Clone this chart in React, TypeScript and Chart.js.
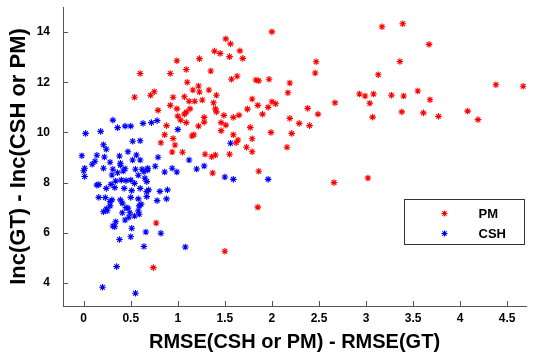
import React, { useEffect, useRef } from 'react';
import { Chart, registerables } from 'chart.js';
Chart.register(...registerables);

// ---- data ----
const seriesNames = ['PM', 'CSH'];

const pmX = [
  1.51, 1.56, 1.39, 1.45, 1.55, 1.66, 0.99, 1.23, 0.60, 0.92, 1.09, 1.35, 1.57, 1.63, 1.10, 1.22,
  1.16, 1.23, 1.33, 0.75, 0.71, 0.54, 0.95, 1.07, 1.41, 1.12, 1.18, 1.26, 1.38, 0.92, 0.99, 1.13,
  1.40, 0.79, 2.00, 3.17, 3.39, 1.69, 2.47, 3.36, 2.46, 3.13, 1.83, 1.86, 1.97, 2.19, 2.17, 1.79,
  1.85, 2.00, 2.04, 1.96, 1.74, 2.38, 2.67, 2.93, 2.99, 3.08, 3.04, 3.27, 3.40, 3.67, 4.38, 4.67,
  3.55, 3.68, 3.38, 3.61, 3.77, 4.08, 4.19, 1.09, 1.07, 1.49, 1.65, 1.00, 1.03, 1.09, 1.28, 1.46,
  1.51, 1.22, 0.88, 1.46, 0.86, 1.17, 1.15, 1.59, 0.95, 0.82, 0.97, 0.94, 1.05, 1.29, 1.36, 1.40,
  1.55, 1.37, 1.59, 1.90, 2.49, 3.07, 2.19, 1.77, 2.29, 2.40, 1.99, 2.21, 1.79, 1.64, 1.62, 1.73,
  1.79, 2.16, 1.86, 2.66, 3.02, 1.85, 0.77, 1.50, 0.74, 1.28, 1.41,
];
const pmY = [
  13.73, 13.53, 13.24, 13.15, 13.02, 13.25, 12.86, 12.94, 12.35, 12.35, 12.51, 12.45, 12.12, 12.24, 12.00, 11.85,
  11.69, 11.61, 11.69, 11.62, 11.48, 11.40, 11.40, 11.42, 11.48, 11.24, 11.24, 11.29, 11.18, 11.08, 10.94, 10.94,
  10.94, 10.88, 14.01, 14.21, 14.33, 12.95, 12.82, 12.83, 12.37, 12.30, 12.09, 12.06, 12.12, 11.97, 11.58, 11.33,
  11.08, 11.22, 11.14, 11.00, 10.93, 10.96, 11.18, 11.53, 11.45, 11.53, 11.16, 11.48, 11.45, 13.51, 11.90, 11.84,
  11.65, 11.30, 10.82, 10.78, 10.64, 10.85, 10.51, 10.81, 10.73, 10.68, 10.69, 10.65, 10.49, 10.39, 10.60, 10.39,
  10.29, 10.25, 10.27, 10.07, 9.91, 9.91, 9.86, 9.91, 9.76, 9.59, 9.50, 9.22, 9.21, 9.13, 9.03, 9.10,
  9.13, 8.38, 10.60, 10.73, 10.73, 10.61, 10.56, 10.20, 10.36, 10.27, 10.00, 9.96, 9.75, 9.70, 9.59, 9.41,
  9.23, 9.41, 8.45, 8.00, 8.18, 7.02, 6.39, 5.26, 4.61, 10.41, 10.82,
];

const cshX = [
  0.31, 0.36, 0.44, 0.50, 0.63, 0.72, 0.78, 0.02, 0.18, 1.00, 0.52, 0.60, 0.21, 0.24, 0.47, 1.56,
  -0.02, 0.14, 0.22, 0.38, 0.56, 0.79, 0.12, 0.28, 0.39, 0.52, 0.60, 0.09, 1.12, 0.01, 0.00, 0.21,
  0.31, 0.39, 0.44, 0.55, 0.62, 0.68, 0.76, 0.36, 0.42, 0.64, 0.68, 1.20, 1.28, 0.86, 0.99, 0.94,
  0.01, 0.58, 0.30, 1.50, 1.59, 0.14, 0.16, 0.29, 0.34, 0.40, 0.45, 0.50, 0.54, 0.65, 0.67, 0.24,
  0.33, 0.43, 0.51, 0.60, 0.67, 0.69, 0.81, 0.89, 0.16, 0.23, 0.30, 0.39, 0.41, 0.50, 0.58, 0.67,
  0.78, 0.88, 0.28, 0.59, 0.45, 0.24, 0.47, 0.28, 0.61, 0.21, 0.25, 0.41, 0.49, 0.58, 0.59, 0.54,
  0.48, 0.44, 0.34, 0.31, 0.33, 0.51, 0.66, 0.82, 0.38, 0.50, 0.64, 1.08, 0.35, 0.20, 0.55, 1.96,
];
const cshY = [
  10.49, 10.19, 10.25, 10.25, 10.36, 10.39, 10.47, 9.96, 10.04, 10.12, 9.65, 9.67, 9.51, 9.33, 9.23, 9.57,
  9.07, 9.09, 9.02, 9.06, 9.10, 9.01, 8.85, 8.81, 8.77, 8.90, 8.90, 8.73, 8.90, 8.57, 8.47, 8.57,
  8.53, 8.69, 8.55, 8.53, 8.53, 8.57, 8.65, 8.39, 8.46, 8.43, 8.50, 8.54, 8.66, 8.42, 8.42, 8.57,
  8.24, 8.29, 8.30, 8.22, 8.13, 7.90, 7.92, 7.93, 8.06, 8.10, 8.08, 8.10, 7.97, 8.17, 8.04, 7.77,
  7.80, 7.77, 7.68, 7.77, 7.64, 7.71, 7.65, 7.71, 7.41, 7.40, 7.31, 7.31, 7.18, 7.41, 7.35, 7.44,
  7.28, 7.35, 7.07, 7.07, 7.00, 6.95, 6.98, 7.24, 7.14, 6.84, 6.88, 6.80, 6.80, 6.87, 6.74, 6.67,
  6.62, 6.51, 6.44, 6.27, 6.24, 6.18, 6.03, 5.98, 5.73, 5.84, 5.45, 5.43, 4.65, 3.83, 3.59, 8.13,
];

const xTicks = [0, 0.5, 1, 1.5, 2, 2.5, 3, 3.5, 4, 4.5];
const yTicks = [4, 6, 8, 10, 12, 14];
const xTitle = 'RMSE(CSH or PM) - RMSE(GT)';
const yTitle = 'Inc(GT) - Inc(CSH or PM)';

const colors = ['#ff0000', '#0000ff'];
const FONT = '"Liberation Sans", Arial, Helvetica, sans-serif';
const AXIS = '#555555';

function toPoints(xs: number[], ys: number[]) {
  return xs.map((x, i) => ({ x, y: ys[i] }));
}

function drawStar(ctx: CanvasRenderingContext2D, x: number, y: number, r: number, color: string) {
  ctx.save();
  ctx.strokeStyle = color;
  ctx.lineWidth = 1.1;
  ctx.beginPath();
  ctx.moveTo(x - r, y);
  ctx.lineTo(x + r, y);
  ctx.moveTo(x, y - r);
  ctx.lineTo(x, y + r);
  const d = r * 0.707;
  ctx.moveTo(x - d, y - d);
  ctx.lineTo(x + d, y + d);
  ctx.moveTo(x - d, y + d);
  ctx.lineTo(x + d, y - d);
  ctx.stroke();
  ctx.restore();
}

const overlayPlugin = {
  id: 'overlay',
  afterDraw(chart: any) {
    const { ctx, chartArea, scales } = chart;
    const xs = scales.x;
    const ys = scales.y;
    ctx.save();
    // inward tick marks
    ctx.strokeStyle = AXIS;
    ctx.lineWidth = 1;
    ctx.beginPath();
    xs.ticks.forEach((t: any) => {
      const px = Math.round(xs.getPixelForValue(t.value)) + 0.5;
      ctx.moveTo(px, chartArea.bottom);
      ctx.lineTo(px, chartArea.bottom - 5);
    });
    ys.ticks.forEach((t: any) => {
      const py = Math.round(ys.getPixelForValue(t.value)) + 0.5;
      ctx.moveTo(chartArea.left, py);
      ctx.lineTo(chartArea.left + 5, py);
    });
    ctx.stroke();

    // legend box
    const boxW = 120;
    const boxH = 45;
    const bx = Math.round(chartArea.right - 2 - boxW) + 0.5;
    const by = Math.round(chartArea.top + 192) + 0.5;
    ctx.fillStyle = '#ffffff';
    ctx.fillRect(bx, by, boxW, boxH);
    ctx.strokeStyle = '#333333';
    ctx.lineWidth = 1;
    ctx.strokeRect(bx, by, boxW, boxH);
    ctx.font = `bold 13px ${FONT}`;
    ctx.textBaseline = 'middle';
    ctx.textAlign = 'left';
    chart.data.datasets.forEach((ds: any, i: number) => {
      const cy = by + 14 + i * 20;
      drawStar(ctx, bx + 40, cy, 3, ds.borderColor);
      ctx.fillStyle = '#000000';
      ctx.fillText(ds.label, bx + 74, cy + 1);
    });
    ctx.restore();
  },
};

export default function App() {
  const canvasRef = useRef<HTMLCanvasElement | null>(null);

  useEffect(() => {
    const canvas = canvasRef.current;
    if (!canvas) return;
    const chart = new Chart(canvas, {
      type: 'scatter',
      data: {
        datasets: [
          {
            label: seriesNames[0],
            data: toPoints(pmX, pmY),
            borderColor: colors[0],
            backgroundColor: colors[0],
            pointStyle: 'star',
            pointRadius: 3.3,
            borderWidth: 1.1,
            order: 1,
          },
          {
            label: seriesNames[1],
            data: toPoints(cshX, cshY),
            borderColor: colors[1],
            backgroundColor: colors[1],
            pointStyle: 'star',
            pointRadius: 3.3,
            borderWidth: 1.1,
            order: 0,
          },
        ],
      },
      options: {
        responsive: false,
        animation: false,
        devicePixelRatio: 1,
        layout: { padding: { top: 7, right: 9, left: 0, bottom: 0 } },
        plugins: {
          legend: { display: false },
          tooltip: { enabled: false },
        },
        scales: {
          x: {
            type: 'linear',
            min: -0.22,
            max: 4.7,
            afterFit: (s: any) => {
              s.height = 51;
              s.paddingLeft = 0;
              s.paddingRight = 0;
            },
            afterBuildTicks: (s: any) => {
              s.ticks = xTicks.map((v) => ({ value: v }));
            },
            grid: { display: true, drawOnChartArea: false, drawTicks: false },
            border: { display: true, color: AXIS, width: 1 },
            ticks: {
              padding: 5,
              color: '#000',
              font: { family: FONT, size: 12, weight: 'bold' },
              callback: (v: any) => String(v),
              maxRotation: 0,
              autoSkip: false,
            },
            title: {
              display: true,
              text: xTitle,
              color: '#000',
              font: { family: FONT, size: 20, weight: 'bold' },
              padding: { top: 0, bottom: 3 },
            },
          },
          y: {
            type: 'linear',
            min: 3.08,
            max: 15,
            afterFit: (s: any) => {
              s.width = 63;
              s.paddingTop = 0;
              s.paddingBottom = 0;
            },
            afterBuildTicks: (s: any) => {
              s.ticks = yTicks.map((v) => ({ value: v }));
            },
            grid: { display: true, drawOnChartArea: false, drawTicks: false },
            border: { display: true, color: AXIS, width: 1 },
            ticks: {
              padding: 13,
              color: '#000',
              font: { family: FONT, size: 12, weight: 'bold' },
              callback: (v: any) => String(v),
              autoSkip: false,
            },
            title: {
              display: true,
              text: yTitle,
              color: '#000',
              font: { family: FONT, size: 22, weight: 'bold' },
              padding: { top: 6, bottom: 0 },
            },
          },
        },
      },
      plugins: [overlayPlugin],
    });
    return () => chart.destroy();
  }, []);

  return (
    <div style={{ position: 'absolute', left: 0, top: 0, width: 535, height: 357, background: '#fff' }}>
      <canvas ref={canvasRef} width={535} height={357} style={{ display: 'block' }} />
    </div>
  );
}
